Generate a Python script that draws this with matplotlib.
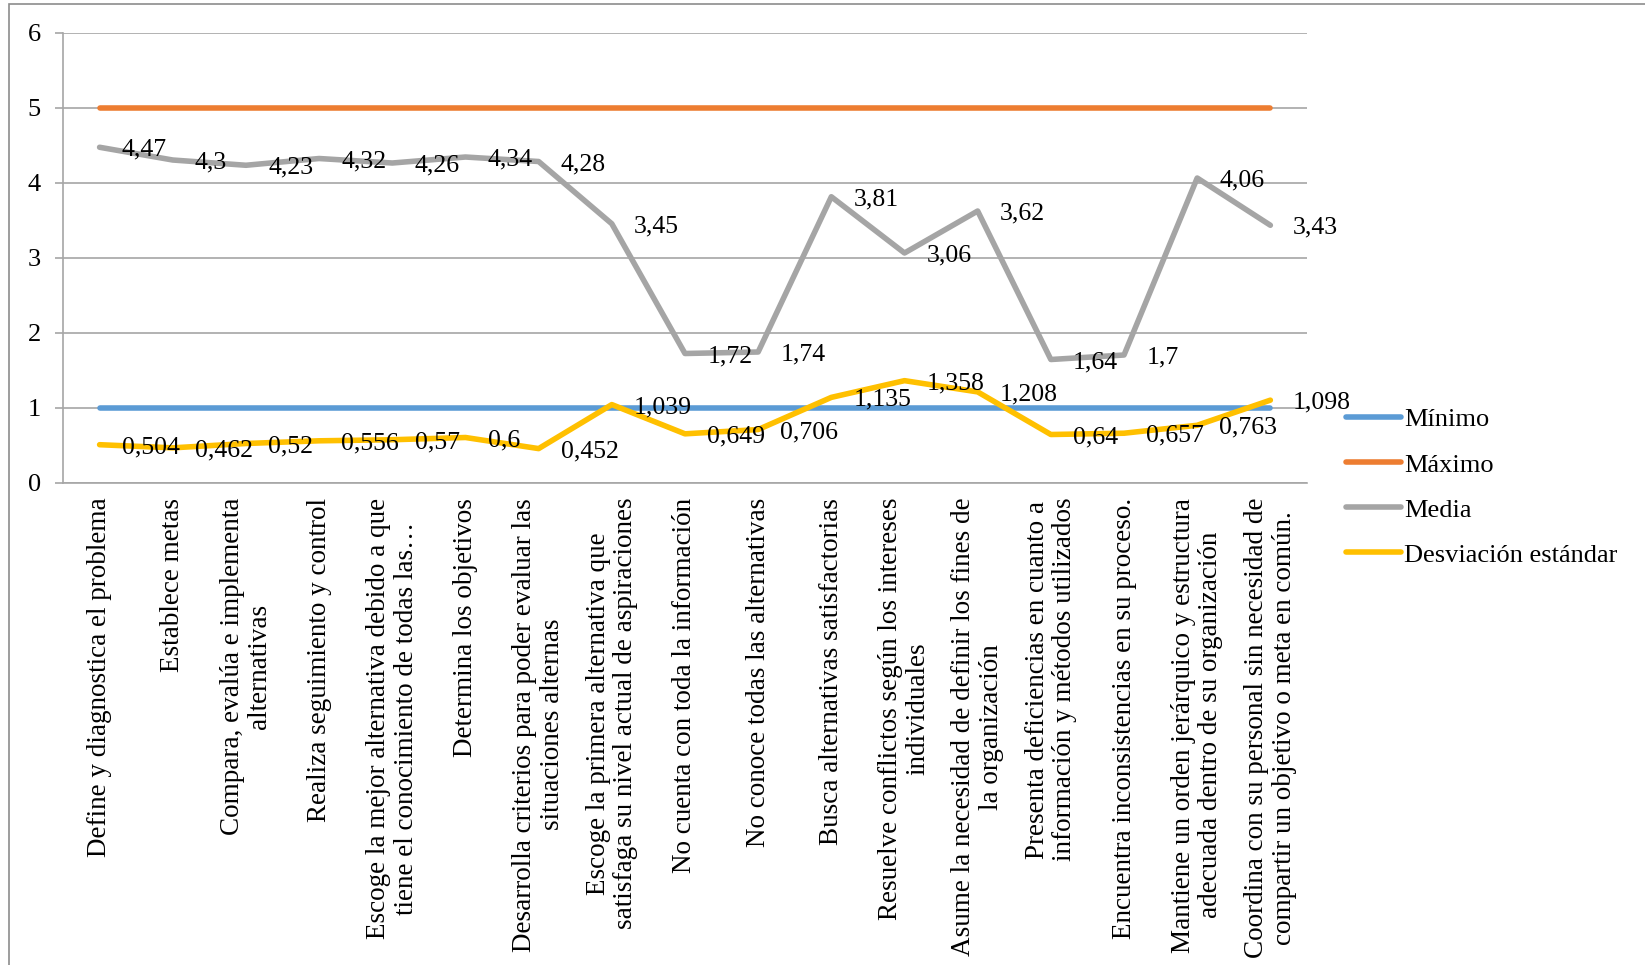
import matplotlib
matplotlib.use('Agg')
import matplotlib.pyplot as plt
from matplotlib.patches import Rectangle

categorias = [
    "Define y diagnostica el problema",
    "Establece metas",
    "Compara, evalúa e implementa\nalternativas",
    "Realiza seguimiento y control",
    "Escoge la mejor alternativa debido a que\ntiene el conocimiento de todas las…",
    "Determina los objetivos",
    "Desarrolla criterios para poder evaluar las\nsituaciones alternas",
    "Escoge la primera alternativa que\nsatisfaga su nivel actual de aspiraciones",
    "No cuenta con toda la información",
    "No conoce todas las alternativas",
    "Busca alternativas satisfactorias",
    "Resuelve conflictos según los intereses\nindividuales",
    "Asume la necesidad de definir los fines de\nla organización",
    "Presenta deficiencias en cuanto a\ninformación y métodos utilizados",
    "Encuentra inconsistencias en su proceso.",
    "Mantiene un orden jerárquico y estructura\nadecuada dentro de su organización",
    "Coordina con su personal sin necesidad de\ncompartir un objetivo o meta en común.",
]

minimo = [1, 1, 1, 1, 1, 1, 1, 1, 1, 1, 1, 1, 1, 1, 1, 1, 1]
maximo = [5, 5, 5, 5, 5, 5, 5, 5, 5, 5, 5, 5, 5, 5, 5, 5, 5]
media = [4.47, 4.3, 4.23, 4.32, 4.26, 4.34, 4.28, 3.45, 1.72, 1.74,
         3.81, 3.06, 3.62, 1.64, 1.7, 4.06, 3.43]
desviacion = [0.504, 0.462, 0.52, 0.556, 0.57, 0.6, 0.452, 1.039, 0.649,
              0.706, 1.135, 1.358, 1.208, 0.64, 0.657, 0.763, 1.098]

plt.rcParams['font.family'] = ['Liberation Serif', 'DejaVu Serif']

fig = plt.figure(figsize=(16.45, 9.65), dpi=100)
ax = fig.add_axes([0.0383, 0.5, 0.7562, 0.4663])

# marco del área del gráfico
fig.patches.append(Rectangle((9 / 1645, -0.05), 1.2, 1.05 - 4 / 965,
                             transform=fig.transFigure, fill=False,
                             edgecolor='#8c8c8c', linewidth=1.2))

x = list(range(len(categorias)))
estilo = dict(linewidth=4, solid_capstyle='round', solid_joinstyle='round')
ax.plot(x, minimo, color='#5B9BD5', label='Mínimo', **estilo)
ax.plot(x, maximo, color='#ED7D31', label='Máximo', **estilo)
ax.plot(x, media, color='#A5A5A5', label='Media', **estilo)
ax.plot(x, desviacion, color='#FFC000', label='Desviación estándar', **estilo)

for serie in (media, desviacion):
    for i, v in enumerate(serie):
        ax.annotate(str(v).replace('.', ','), (i, v), xytext=(16, 0),
                    textcoords='offset points', ha='left',
                    va='center_baseline', fontsize=18.5, zorder=5)

ax.set_xlim(-0.5, len(categorias) - 0.5)
ax.set_ylim(0, 6)
ax.set_yticks(range(0, 7))
ax.yaxis.grid(True, color='#a6a6a6', linewidth=1.2)
ax.set_axisbelow(True)

ax.set_xticks(x)
ax.set_xticklabels(categorias, rotation=90, ha='center', va='top',
                   multialignment='center', fontsize=19.5, linespacing=1.13)
ax.tick_params(axis='x', length=0, pad=11)
ax.tick_params(axis='y', length=6, width=1.2, color='#a6a6a6', pad=10,
               labelsize=19)

for lado in ('top', 'right'):
    ax.spines[lado].set_visible(False)
for lado in ('left', 'bottom'):
    ax.spines[lado].set_color('#a6a6a6')
    ax.spines[lado].set_linewidth(1.2)

fig.legend(loc='center left', bbox_to_anchor=(1346 / 1645, 0.495),
           frameon=False, fontsize=19, handlelength=2.1, handletextpad=0.1,
           labelspacing=0.82, borderpad=0, borderaxespad=0)

fig.savefig('out.png', dpi=100)
plt.close(fig)
